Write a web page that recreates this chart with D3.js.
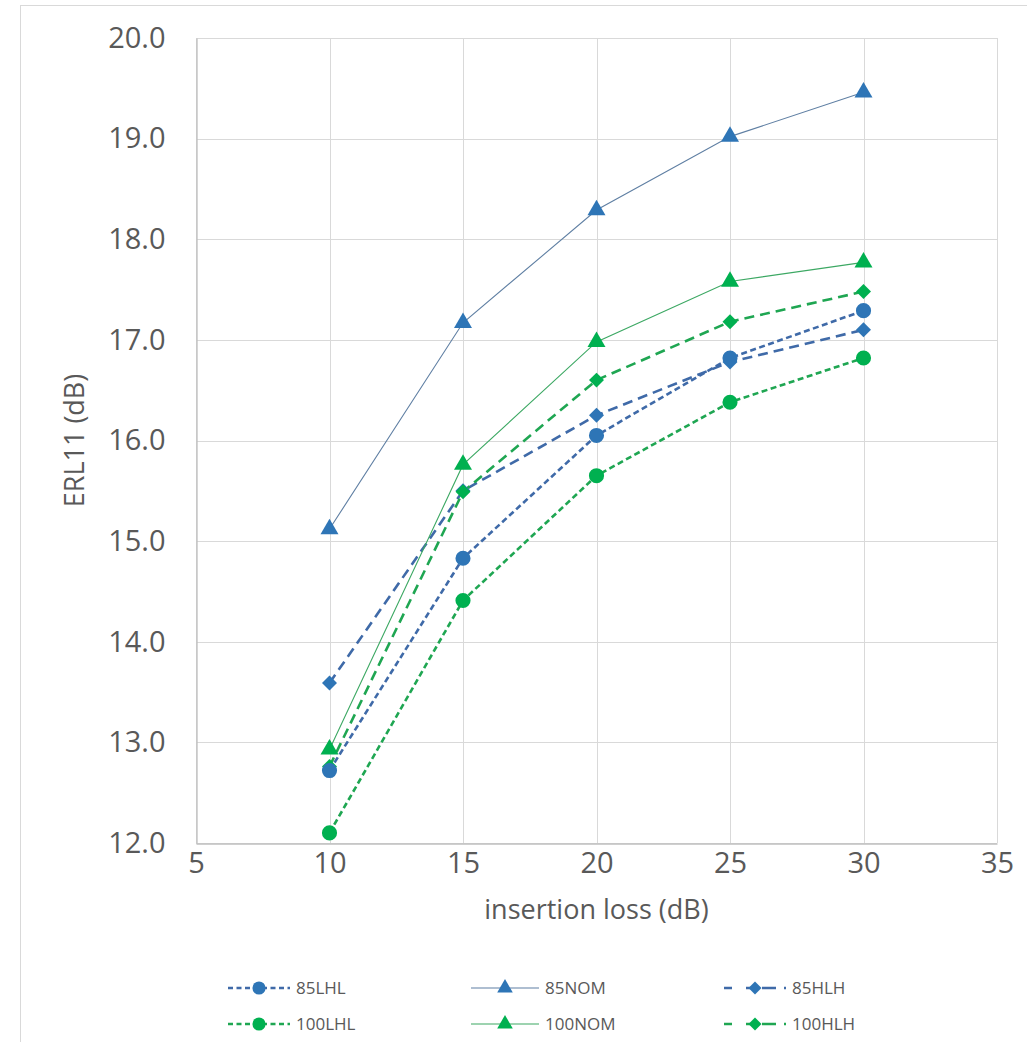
<!DOCTYPE html>
<html>
<head>
<meta charset="utf-8">
<script src="https://cdn.jsdelivr.net/npm/d3@7"></script>
<style>
  html, body { margin: 0; padding: 0; background: #fff; }
  svg { display: block; }
  text { font-family: "Open Sans", "Noto Sans", sans-serif; fill: #595959; }
</style>
</head>
<body>
<svg id="chart" width="1027" height="1042"></svg>
<script>
// Insertion loss points (dB)
const insertionLoss = [10, 15, 20, 25, 30];

// ERL11 per channel configuration (dB)
const erl85LHL  = [12.72, 14.83, 16.05, 16.82, 17.29];
const erl85NOM  = [15.12, 17.17, 18.29, 19.02, 19.46];
const erl85HLH  = [13.59, 15.50, 16.25, 16.78, 17.10];
const erl100LHL = [12.10, 14.41, 15.65, 16.38, 16.82];
const erl100NOM = [12.93, 15.76, 16.98, 17.58, 17.77];
const erl100HLH = [12.76, 15.49, 16.60, 17.18, 17.48];

const seriesNames = ["85LHL", "85NOM", "85HLH", "100LHL", "100NOM", "100HLH"];
// Stacking order of the markers (last on top)
const drawOrder = ["85NOM", "85HLH", "100LHL", "100NOM", "100HLH", "85LHL"];

// Axis ticks
const xTicks = [5, 10, 15, 20, 25, 30, 35];
const yTicks = [12, 13, 14, 15, 16, 17, 18, 19, 20];

const BLUE = "#2E75B6", BLUE_LINE = "#3F6AA8";
const GREEN = "#00B050", GREEN_LINE = "#1FA652";

const styles = {
  "85LHL":  { values: erl85LHL,  marker: "circle",   fill: BLUE,  stroke: BLUE_LINE,  width: 2.6, dash: "6,3.5" },
  "85NOM":  { values: erl85NOM,  marker: "triangle", fill: BLUE,  stroke: "#5F7FA3",  width: 1.1, dash: null },
  "85HLH":  { values: erl85HLH,  marker: "diamond",  fill: BLUE,  stroke: BLUE_LINE,  width: 2.6, dash: "10,6" },
  "100LHL": { values: erl100LHL, marker: "circle",   fill: GREEN, stroke: GREEN_LINE, width: 2.6, dash: "6,3.5" },
  "100NOM": { values: erl100NOM, marker: "triangle", fill: GREEN, stroke: "#3CA863",  width: 1.1, dash: null },
  "100HLH": { values: erl100HLH, marker: "diamond",  fill: GREEN, stroke: GREEN_LINE, width: 2.6, dash: "10,6" }
};

const svg = d3.select("#chart");

// Outer chart frame
svg.append("rect")
  .attr("x", 20.5).attr("y", 5.5)
  .attr("width", 1030).attr("height", 1060)
  .attr("fill", "#fff").attr("stroke", "#D9D9D9").attr("stroke-width", 1);

const plot = { left: 196, right: 997, top: 38, bottom: 843 };

const x = d3.scaleLinear().domain([5, 35]).range([plot.left, plot.right]);
const y = d3.scaleLinear().domain([12, 20]).range([plot.bottom, plot.top]);

// Gridlines
const grid = svg.append("g");
grid.selectAll("line.h").data(yTicks).join("line")
  .attr("x1", plot.left).attr("x2", plot.right)
  .attr("y1", d => Math.round(y(d)) + 0.5).attr("y2", d => Math.round(y(d)) + 0.5)
  .attr("stroke", "#D9D9D9").attr("stroke-width", 1);
grid.selectAll("line.v").data(xTicks).join("line")
  .attr("y1", plot.top).attr("y2", plot.bottom)
  .attr("x1", d => Math.round(x(d)) + 0.5).attr("x2", d => Math.round(x(d)) + 0.5)
  .attr("stroke", "#D9D9D9").attr("stroke-width", 1);

// Axes
const xAxis = svg.append("g")
  .attr("transform", `translate(0,${Math.round(plot.bottom) + 0.5})`)
  .call(d3.axisBottom(x).tickValues(xTicks).tickSize(0).tickPadding(9).tickFormat(d3.format("d")));
const yAxis = svg.append("g")
  .attr("transform", `translate(${plot.left + 0.5},0)`)
  .call(d3.axisLeft(y).tickValues(yTicks).tickSize(0).tickPadding(31).tickFormat(d3.format(".1f")));
[xAxis, yAxis].forEach(a => {
  a.select(".domain").attr("stroke", "#BFBFBF").attr("stroke-width", 1.3);
  a.selectAll("text").style("font-size", "29px").attr("fill", "#595959");
});
xAxis.selectAll("text").attr("dy", "0.71em");

// Axis titles
svg.append("text")
  .attr("x", (plot.left + plot.right) / 2).attr("y", 919)
  .attr("text-anchor", "middle")
  .style("font-size", "27px")
  .text("insertion loss (dB)");
svg.append("text")
  .attr("transform", `translate(84,${(plot.top + plot.bottom) / 2}) rotate(-90)`)
  .attr("text-anchor", "middle")
  .style("font-size", "27px")
  .text("ERL11 (dB)");

function symbolPath(kind, scale = 1) {
  if (kind === "circle") return d3.symbol(d3.symbolCircle, 180 * scale)();
  if (kind === "triangle") return d3.symbol(d3.symbolTriangle, 140 * scale)();
  return d3.symbol(d3.symbolSquare, 112 * scale)();
}

const line = d3.line().x((d, i) => x(insertionLoss[i])).y(d => y(d));

// Series lines
const linesG = svg.append("g");
seriesNames.forEach(name => {
  const s = styles[name];
  linesG.append("path")
    .datum(s.values)
    .attr("d", line)
    .attr("fill", "none")
    .attr("stroke", s.stroke)
    .attr("stroke-width", s.width)
    .attr("stroke-dasharray", s.dash);
});

// Series markers
const markersG = svg.append("g");
drawOrder.forEach(name => {
  const s = styles[name];
  markersG.append("g").selectAll("path").data(s.values).join("path")
    .attr("d", symbolPath(s.marker))
    .attr("transform", (d, i) => `translate(${x(insertionLoss[i])},${y(d)})` + (s.marker === "diamond" ? " rotate(45)" : ""))
    .attr("fill", s.fill);
});

// Legend
const legendCols = [228, 471, 724];
const legendRows = [988, 1024];
const legend = svg.append("g");
seriesNames.forEach((name, i) => {
  const s = styles[name];
  const cx = legendCols[i % 3];
  const cy = legendRows[Math.floor(i / 3)];
  const g = legend.append("g").attr("transform", `translate(${cx},${cy})`);
  const len = s.marker === "triangle" ? 68 : 62;
  g.append("line")
    .attr("x1", 0).attr("x2", len).attr("y1", 0).attr("y2", 0)
    .attr("stroke", s.stroke)
    .attr("stroke-width", s.width)
    .attr("stroke-dasharray", s.dash === "10,6" ? "8,14,8" : (s.dash ? "5,3.5" : null));
  g.append("path")
    .attr("d", symbolPath(s.marker, 0.75))
    .attr("transform", `translate(${len / 2},0)` + (s.marker === "diamond" ? " rotate(45)" : ""))
    .attr("fill", s.fill);
  g.append("text")
    .attr("x", len + 6).attr("y", 0).attr("dy", "0.35em")
    .style("font-size", "17px")
    .text(name);
});
</script>
</body>
</html>
